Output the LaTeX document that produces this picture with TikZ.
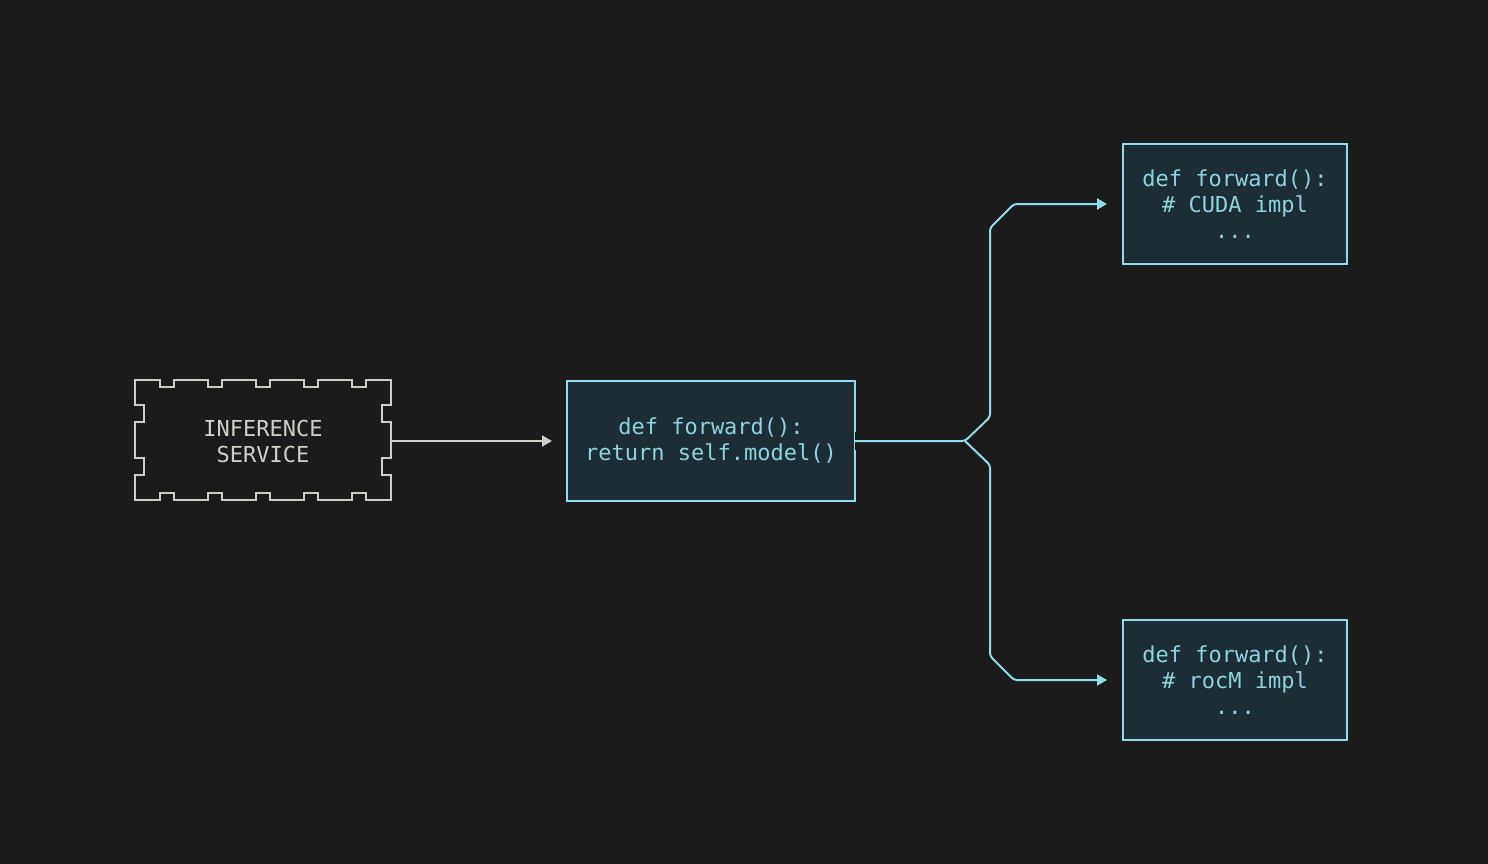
\documentclass[tikz,border=0pt]{standalone}
\usepackage{fontspec}
\setmonofont{DejaVu Sans Mono}
\usetikzlibrary{arrows.meta,calc}
\definecolor{bg}{HTML}{1B1B1B}
\definecolor{boxfill}{HTML}{1C2E33}
\definecolor{cyanline}{HTML}{90DCEC}
\definecolor{cyantext}{HTML}{8CD4E2}
\definecolor{grayline}{HTML}{CFCFC7}
\begin{document}
\begin{tikzpicture}[x=1pt,y=-1pt,
  codetext/.style={font=\ttfamily\fontsize{22}{26}\selectfont, align=center},
  codebox/.style={codetext, draw=cyanline, fill=boxfill, line width=2pt, text=cyantext,
    minimum width=288pt, minimum height=120pt, inner sep=0pt},
  sidebox/.style={codebox, minimum width=224pt},
  svcbox/.style={codetext, text=grayline, minimum width=256pt, minimum height=120pt, inner sep=0pt},
  grayarrow/.style={draw=grayline, line width=2pt, -{Triangle[length=10pt,width=11pt]}},
  cyanarrow/.style={draw=cyanline, line width=2pt, rounded corners=3pt, -{Triangle[length=10pt,width=11pt]}},
]
\fill[bg] (0,0) rectangle (1488,864);
\useasboundingbox (0,0) rectangle (1488,864);

% notched service shape
\draw[grayline, line width=2pt, line join=miter]
  (135,380) -- (160,380) -- (160,387) -- (174,387) -- (174,380)
  -- (208,380) -- (208,387) -- (222,387) -- (222,380)
  -- (256,380) -- (256,387) -- (270,387) -- (270,380)
  -- (304,380) -- (304,387) -- (318,387) -- (318,380)
  -- (352,380) -- (352,387) -- (366,387) -- (366,380) -- (391,380)
  -- (391,405) -- (382,405) -- (382,422) -- (391,422)
  -- (391,458) -- (382,458) -- (382,475) -- (391,475) -- (391,500)
  -- (366,500) -- (366,493) -- (352,493) -- (352,500)
  -- (318,500) -- (318,493) -- (304,493) -- (304,500)
  -- (270,500) -- (270,493) -- (256,493) -- (256,500)
  -- (222,500) -- (222,493) -- (208,493) -- (208,500)
  -- (174,500) -- (174,493) -- (160,493) -- (160,500) -- (135,500)
  -- (135,475) -- (144,475) -- (144,458) -- (135,458)
  -- (135,422) -- (144,422) -- (144,405) -- (135,405) -- cycle;
\node[svcbox] (svc) at (263,441) {INFERENCE\\SERVICE};

\node[codebox] (mid) at (711,441) {def forward():\\return self.model()};
\node[sidebox] (cuda) at (1235,204) {def forward():\\\# CUDA impl\\...};
\node[sidebox] (rocm) at (1235,680) {def forward():\\\# rocM impl\\...};

\draw[grayarrow, shorten >=14pt] (svc.east) -- (mid.west);

% gap in the border where the connector leaves
\fill[bg] ($(mid.east)+(-1.5,-9)$) rectangle ($(mid.east)+(4,9)$);
\coordinate (fork) at (965,441);
\draw[cyanarrow, shorten >=15pt] ($(mid.east)+(-1,0)$) -- (fork) -- (990,417) -- (990,228) -- (1014,204) -- (cuda.west);
\draw[cyanarrow, shorten >=15pt] (fork) -- (990,465) -- (990,656) -- (1014,680) -- (rocm.west);
\end{tikzpicture}
\end{document}
